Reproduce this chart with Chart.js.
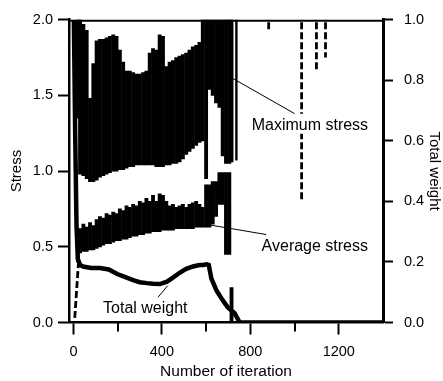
<!DOCTYPE html>
<html><head><meta charset="utf-8">
<script src="https://cdn.jsdelivr.net/npm/chart.js@4.4.0/dist/chart.umd.min.js"></script>
<style>html,body{margin:0;padding:0;background:#fff}canvas{display:block}</style>
</head><body>
<canvas id="c" width="443" height="381"></canvas>
<script>
// ---------- data ----------
const xTickValues = [0, 200, 400, 600, 800, 1000, 1200];
const stressTickValues = [0, 0.5, 1.0, 1.5, 2.0];
const weightTickValues = [0, 0.2, 0.4, 0.6, 0.8, 1.0];

// iterations of the sampled columns (max stress / average stress bands)
const bandIter = [20,30,45,60,75,90,105,120,135,150,165,180,195,210,225,240,255,270,285,300,315,330,345,360,375,390,405,420,435,450,465,480,495,510,525,540,555,570,585,600,615,630,645,660,675,690,705,715];
const maxStressHigh = [2.05,2.05,1.97,1.93,1.48,1.71,1.86,1.87,1.87,1.88,1.89,1.9,1.89,1.8,1.72,1.66,1.66,1.65,1.64,1.64,1.65,1.66,1.78,1.81,1.8,1.9,1.89,1.69,1.72,1.73,1.75,1.76,1.77,1.78,1.8,1.82,1.83,1.85,2.05,2.05,2.05,2.05,2.05,2.05,2.05,2.05,2.05,2.05];
const maxStressLow = [1.35,0.98,0.97,0.95,0.93,0.93,0.94,0.96,0.97,0.98,0.99,1.0,1.0,1.01,1.01,1.02,1.03,1.03,1.04,1.04,1.04,1.04,1.04,1.04,1.03,1.03,1.03,1.04,1.04,1.05,1.05,1.06,1.08,1.11,1.13,1.15,1.17,1.19,1.2,0.95,1.54,1.5,1.45,1.42,1.1,1.05,1.05,1.06];
const avgStressLow = [0.40,0.46,0.47,0.47,0.48,0.48,0.49,0.50,0.51,0.52,0.52,0.53,0.54,0.54,0.55,0.55,0.56,0.57,0.57,0.58,0.58,0.59,0.59,0.6,0.6,0.6,0.61,0.61,0.61,0.61,0.62,0.62,0.62,0.62,0.62,0.62,0.63,0.63,0.63,0.63,0.63,0.65,0.7,0.78,0.78,0.45,0.45,0.0];
const avgStressHigh = [0.5,0.62,0.65,0.63,0.66,0.64,0.68,0.7,0.69,0.72,0.71,0.73,0.72,0.75,0.74,0.77,0.76,0.78,0.77,0.8,0.79,0.82,0.8,0.84,0.8,0.85,0.84,0.8,0.77,0.78,0.76,0.77,0.78,0.76,0.78,0.79,0.8,0.78,0.76,0.91,0.91,0.93,0.93,0.99,0.99,0.99,0.99,0.23];

// solid vertical streak of maximum stress just after the band
const solidStreakIter = [737];
const solidStreakLow = [1.07];
// isolated dashed vertical streaks of maximum stress (from the top of the axis down to a low value)
const streakIter = [883, 1032, 1099, 1140];
const streakLow = [1.93, 0.81, 1.66, 1.75];
const streakTop = 2.05;
// initial dashed rise of the stress curve
const riseIter = [6, 24];
const riseStress = [0.03, 0.42];

// total weight (right axis)
const weightIter = [2,8,14,20,30,44,80,120,160,198,235,270,300,333,360,391,423,450,482,510,541,570,586,603,612,624,647,669,698,729,752,800,1000,1200,1400];
const weightVal = [1.0,0.62,0.32,0.21,0.19,0.185,0.18,0.18,0.175,0.16,0.15,0.14,0.133,0.13,0.128,0.127,0.135,0.148,0.165,0.177,0.185,0.19,0.19,0.192,0.19,0.145,0.106,0.08,0.05,0.031,0,0,0,0,0];

// ---------- build datasets ----------
const maxBand = bandIter.map((x, i) => ({x, y: [maxStressLow[i], maxStressHigh[i]]}));
const avgBand = bandIter.map((x, i) => ({x, y: [avgStressLow[i], avgStressHigh[i]]}));
function verticals(iters, lows) {
  const pts = [];
  iters.forEach((x, i) => { pts.push({x, y: streakTop}, {x, y: lows[i]}, {x, y: null}); });
  return pts;
}
const dashedPts = riseIter.map((x, i) => ({x, y: riseStress[i]}));
dashedPts.push({x: riseIter[1], y: null});
verticals(streakIter, streakLow).forEach(p => dashedPts.push(p));
const solidPts = verticals(solidStreakIter, solidStreakLow);
const weightPts = weightIter.map((x, i) => ({x, y: weightVal[i]}));

const FONT = '"Liberation Sans", Arial, Helvetica, sans-serif';

const notes = [
  {text: 'Maximum stress', x: 806, y: 1.273, box: true, from: [716, 1.616], to: [1000, 1.38]},
  {text: 'Average stress', x: 851, y: 0.472, box: false, from: [609, 0.646], to: [872, 0.581]},
  {text: 'Total weight', x: 134, y: 0.062, box: false, from: [382, 0.166], to: [427, 0.244]}
];

const decor = {
  id: 'decor',
  afterDatasetsDraw(chart) {
    const {ctx, chartArea: a, scales: {x, y}} = chart;
    ctx.save();
    ctx.strokeStyle = '#000';
    ctx.lineWidth = 2;
    ctx.beginPath();
    ctx.moveTo(a.left, a.top + 1);
    ctx.lineTo(a.right, a.top + 1);
    ctx.stroke();
    xTickValues.filter(v => v % 400 !== 0).forEach(v => {
      const px = Math.round(x.getPixelForValue(v));
      ctx.beginPath();
      ctx.moveTo(px, a.bottom);
      ctx.lineTo(px, a.bottom + 9);
      ctx.stroke();
    });
    ctx.font = '16px ' + FONT;
    ctx.textBaseline = 'alphabetic';
    ctx.textAlign = 'left';
    notes.forEach(n => {
      const tx = x.getPixelForValue(n.x), ty = y.getPixelForValue(n.y);
      const w = ctx.measureText(n.text).width;
      if (n.box) {
        ctx.fillStyle = '#fff';
        ctx.fillRect(tx - 2, ty - 16, w + 4, 20);
      }
      ctx.strokeStyle = '#000';
      ctx.lineWidth = 1;
      ctx.beginPath();
      ctx.moveTo(x.getPixelForValue(n.from[0]), y.getPixelForValue(n.from[1]));
      ctx.lineTo(x.getPixelForValue(n.to[0]), y.getPixelForValue(n.to[1]));
      ctx.stroke();
      ctx.fillStyle = '#000';
      ctx.fillText(n.text, tx, ty);
    });
    ctx.restore();
  }
};

new Chart(document.getElementById('c'), {
  type: 'bar',
  data: {
    datasets: [
      {label: 'Maximum stress', type: 'bar', data: maxBand, backgroundColor: '#000', borderWidth: 0,
       barThickness: 3.2, grouped: false, yAxisID: 'y', order: 4},
      {label: 'Average stress', type: 'bar', data: avgBand, backgroundColor: '#000', borderWidth: 0,
       barThickness: 3.2, grouped: false, yAxisID: 'y', order: 3},
      {label: 'Dashed streaks', type: 'line', data: dashedPts, borderColor: '#000', borderWidth: 2.8,
       borderDash: [7, 3], pointRadius: 0, spanGaps: false, yAxisID: 'y', clip: 0, order: 2},
      {label: 'Solid streak', type: 'line', data: solidPts, borderColor: '#000', borderWidth: 2.4,
       pointRadius: 0, spanGaps: false, yAxisID: 'y', clip: 0, order: 1},
      {label: 'Total weight', type: 'line', data: weightPts, borderColor: '#000', borderWidth: 4.5,
       pointRadius: 0, tension: 0, yAxisID: 'y1', order: 0}
    ]
  },
  options: {
    responsive: false,
    animation: false,
    devicePixelRatio: 1,
    layout: {padding: {top: 15, left: 0, right: 0, bottom: 0}},
    plugins: {legend: {display: false}, tooltip: {enabled: false}},
    scales: {
      x: {
        type: 'linear', min: -20, max: 1400, offset: false,
        afterBuildTicks: s => { s.ticks = xTickValues.map(v => ({value: v})); },
        afterFit: s => { s.height = 58.5; },
        ticks: {callback: v => (v % 400 === 0 ? String(v) : ''), color: '#000', padding: 9,
                font: {family: FONT, size: 14.5}, maxRotation: 0, autoSkip: false},
        grid: {drawOnChartArea: false, drawTicks: true, tickLength: 12, tickWidth: 2,
               tickColor: c => (c.tick && c.tick.value % 400 === 0 ? '#000' : 'rgba(0,0,0,0)'), offset: false},
        border: {display: true, color: '#000', width: 2.5},
        title: {display: true, text: 'Number of iteration', color: '#000',
                font: {family: FONT, size: 15.5}, padding: {top: 0, bottom: 0}}
      },
      y: {
        type: 'linear', position: 'left', min: 0, max: 2.0,
        afterBuildTicks: s => { s.ticks = stressTickValues.map(v => ({value: v})); },
        afterFit: s => { s.width = 69; },
        ticks: {callback: v => Number(v).toFixed(1), color: '#000', padding: 5,
                font: {family: FONT, size: 14.5}},
        grid: {drawOnChartArea: false, drawTicks: true, tickLength: 11, tickWidth: 2, tickColor: '#000'},
        border: {display: true, color: '#000', width: 2.5},
        title: {display: true, text: 'Stress', color: '#000',
                font: {family: FONT, size: 15}, padding: {top: 8, bottom: 0}}
      },
      y1: {
        type: 'linear', position: 'right', min: 0, max: 1.0,
        afterBuildTicks: s => { s.ticks = weightTickValues.map(v => ({value: v})); },
        afterFit: s => { s.width = 60; },
        ticks: {callback: v => Number(v).toFixed(1), color: '#000', padding: 11,
                font: {family: FONT, size: 14.5}},
        grid: {drawOnChartArea: false, drawTicks: true, tickLength: 10, tickWidth: 2, tickColor: '#000'},
        border: {display: true, color: '#000', width: 3},
        title: {display: true, text: 'Total weight', color: '#000',
                font: {family: FONT, size: 15}, padding: {top: 0, bottom: 0}}
      }
    }
  },
  plugins: [decor]
});
</script>
</body></html>
